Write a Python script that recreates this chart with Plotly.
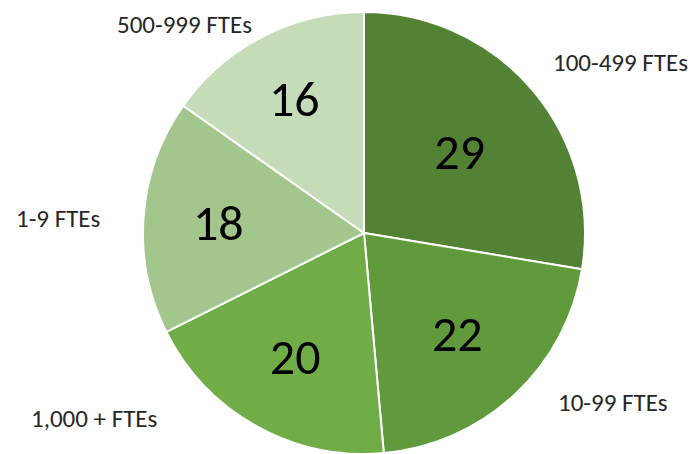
import plotly.graph_objects as go

categories = ["100-499 FTEs", "10-99 FTEs", "1,000 + FTEs", "1-9 FTEs", "500-999 FTEs"]
values = [29, 22, 20, 18, 16]
colors = ["#548235", "#609a3c", "#70ad47", "#a2c68b", "#c5dcb9"]

W, H = 699, 454
OFF = 8  # page body margin offset
# label anchor positions (viewport pixels) for the category labels
label_px = [(620, 63), (613, 402), (94, 418), (58, 218), (184, 25)]

cx, cy, r = 364 - OFF, 233 - OFF, 221

fig = go.Figure(go.Pie(
    labels=categories,
    values=values,
    sort=False,
    direction="clockwise",
    rotation=0,
    marker=dict(colors=colors, line=dict(color="white", width=2)),
    textinfo="value",
    textposition="inside",
    insidetextorientation="horizontal",
    textfont=dict(family="Carlito, Calibri, Liberation Sans, sans-serif", size=50, color="black"),
    domain=dict(x=[(cx - r) / W, (cx + r) / W], y=[(H - cy - r) / H, (H - cy + r) / H]),
    showlegend=False,
    hoverinfo="label+value",
))

for cat, (px, py) in zip(categories, label_px):
    fig.add_annotation(
        x=(px - OFF) / W, y=1 - (py - OFF) / H, xref="paper", yref="paper",
        text=cat, showarrow=False, borderpad=0,
        font=dict(family="Carlito, Calibri, Liberation Sans, sans-serif", size=25, color="#262626"),
        xanchor="center", yanchor="middle",
    )

fig.update_layout(
    width=W, height=H,
    margin=dict(l=0, r=0, t=0, b=0),
    paper_bgcolor="white",
    plot_bgcolor="white",
)

fig.write_html("out.html")
